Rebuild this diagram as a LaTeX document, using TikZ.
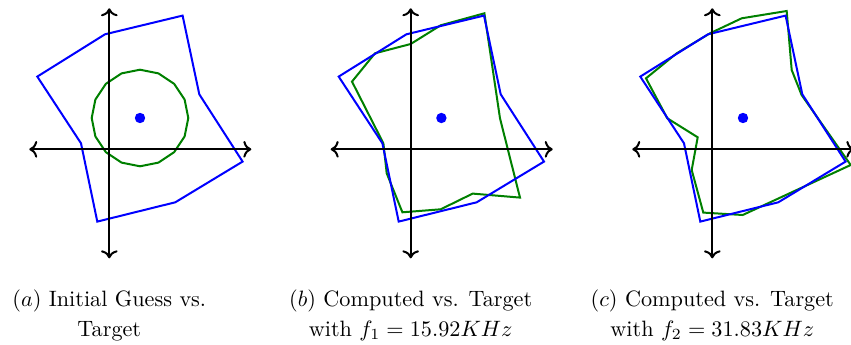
\documentclass[tikz,border=0pt]{standalone}
\usepackage{amsmath}
\usepackage{xcolor}
\usepackage{tikz}
\usetikzlibrary{arrows.meta}
\definecolor{targetBlue}{RGB}{0,0,255}
\definecolor{guessGreen}{RGB}{0,128,0}
\tikzset{
  axisArrow/.style={<->, line width=0.9pt, color=black},
  targetPoly/.style={draw=targetBlue, line width=0.9pt, line join=miter},
  guessPoly/.style={draw=guessGreen, line width=0.9pt, line join=miter},
  capText/.style={anchor=north, inner sep=0pt, align=center, font=\normalsize}
}
\begin{document}
\begin{tikzpicture}[x=0.45pt, y=0.45pt]
  \useasboundingbox (0,0) rectangle (851,345);
  % panel origins
  \coordinate (oa) at (109.3,195.7);
  \coordinate (ob) at (410.7,195.7);
  \coordinate (oc) at (712.3,195.7);
  % green shapes
  \begin{scope}[shift={(oa)}]
    \draw[guessPoly, shift={(30.7,31.3)}] (90:48.3)
      \foreach \k in {1,...,15}{ -- (90+22.5*\k:48.3) } -- cycle;
  \end{scope}
  \begin{scope}[shift={(ob)}]
    \draw[guessPoly] (73.7,136) -- (89.3,31) -- (109.3,-48.3) -- (62,-44.3)
      -- (30,-60) -- (-8.3,-63) -- (-24,-24) -- (-27.3,6) -- (-58.7,67.7)
      -- (-35.7,96) -- (0,105.3) -- (30,124) -- cycle;
  \end{scope}
  \begin{scope}[shift={(oc)}]
    \draw[guessPoly] (74.4,138.3) -- (79.4,79.3) -- (89.3,54.3) -- (138.4,-15.7)
      -- (30.4,-65.7) -- (-9,-63.3) -- (-20.6,-20.7) -- (-14.6,12) -- (-45,31)
      -- (-66.3,71) -- (-35.6,96) -- (-2.3,116) -- (29.4,131) -- cycle;
  \end{scope}
  % target, centroid and axes
  \foreach \o in {oa,ob,oc}{
    \begin{scope}[shift={(\o)}]
      \draw[targetPoly] (-4.3,115) -- (73.3,133.7) -- (90,55) -- (133.3,-12.3)
        -- (66,-53) -- (-12,-72.3) -- (-28.3,6) -- (-72,72.7) -- cycle;
      \fill[targetBlue] (30.7,31.3) circle (5.2);
      \draw[axisArrow] (-80,0) -- (142,0);
      \draw[axisArrow] (0,-109) -- (0,141);
    \end{scope}
  }
  % captions
  \node[capText] (capa) at (109.3,55.7) {$(a)$ Initial Guess vs.\\[1.4pt] Target};
  \node[capText] (capb) at (410.7,55.7) {$(b)$ Computed vs. Target\\[1.4pt] with $f_1 = 15.92KHz$};
  \node[capText] (capc) at (712.3,55.7) {$(c)$ Computed vs. Target\\[1.4pt] with $f_2 = 31.83KHz$};
\end{tikzpicture}
\end{document}
